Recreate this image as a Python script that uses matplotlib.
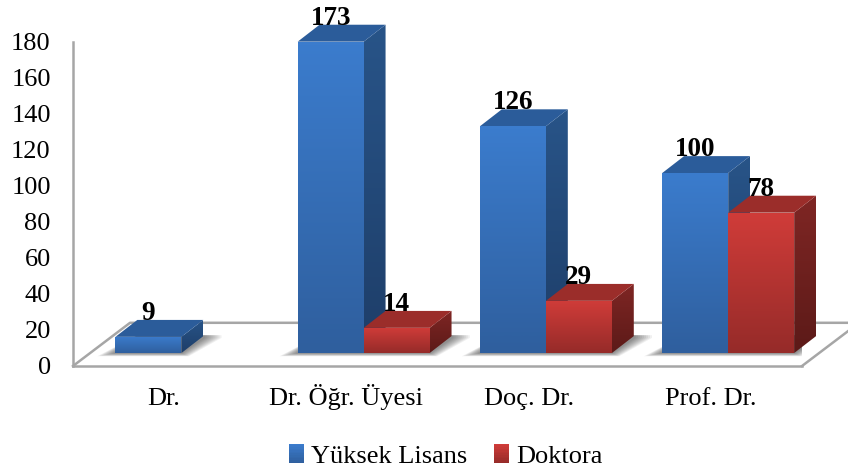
import numpy as np
import matplotlib
matplotlib.use("Agg")
import matplotlib.pyplot as plt
from matplotlib.colors import LinearSegmentedColormap, to_rgb
from matplotlib.legend_handler import HandlerBase
from matplotlib.patches import Patch, Polygon, Rectangle

plt.rcParams['font.family'] = ['Liberation Serif', 'DejaVu Serif']

categories = ["Dr.", "Dr. Öğr. Üyesi", "Doç. Dr.", "Prof. Dr."]
yuksek_lisans = [9, 173, 126, 100]
doktora = [None, 14, 29, 78]
series_names = ["Yüksek Lisans", "Doktora"]

# front, side and top face colours (top of bar, bottom of bar)
BLUE = dict(front=("#3b7ccd", "#2f5f9e"), side=("#285488", "#1e3e69"), top="#2b5c9a")
RED = dict(front=("#d03c39", "#962b29"), side=("#7f2624", "#5c1a18"), top="#9b2d2a")

# fake 3D: everything is in data units
BAR_W = 0.362
DEPTH_X = 0.12
DEPTH_Y = 9.4
BASE_X = 0.095
BASE_Y = 7.2
FLOOR_X = 0.313
FLOOR_Y = 24
GRAY = "#a6a6a6"


def gradient_face(ax, pts, colors, zorder):
    cmap = LinearSegmentedColormap.from_list("face", colors)
    xs = [p[0] for p in pts]
    ys = [p[1] for p in pts]
    grad = np.linspace(0, 1, 64).reshape(-1, 1)
    im = ax.imshow(grad, cmap=cmap, aspect="auto", zorder=zorder, interpolation="bilinear",
                   extent=(min(xs), max(xs), min(ys), max(ys)), origin="upper")
    poly = Polygon(pts, transform=ax.transData)
    im.set_clip_path(poly)
    im.set_clip_box(ax.figure.bbox)


def draw_bar(ax, x0, value, style, zorder):
    x1 = x0 + BAR_W
    b = BASE_Y
    t = BASE_Y + value
    gradient_face(ax, [(x1, b), (x1 + DEPTH_X, b + DEPTH_Y), (x1 + DEPTH_X, t + DEPTH_Y), (x1, t)],
                  style["side"], zorder)
    ax.add_patch(Polygon([(x0, t), (x1, t), (x1 + DEPTH_X, t + DEPTH_Y), (x0 + DEPTH_X, t + DEPTH_Y)],
                         facecolor=style["top"], edgecolor="none", zorder=zorder, clip_on=False))
    gradient_face(ax, [(x0, b), (x1, b), (x1, t), (x0, t)], style["front"], zorder + 0.1)


def draw_shadow(ax, x0, x1):
    # stacked see-through polygons give a soft edge
    n = 9
    for k in range(n):
        m = 0.1 * (1 - k / n)
        my = 1.8 * (1 - k / n)
        b = BASE_Y - my
        pts = [(x0 - m, b), (x1 + m * 0.4, b), (x1 + DEPTH_X + m, BASE_Y + DEPTH_Y - 1),
               (x1 + DEPTH_X + m, BASE_Y + DEPTH_Y + 0.5), (x0 + DEPTH_X, BASE_Y + DEPTH_Y + 0.5)]
        ax.add_patch(Polygon(pts, facecolor="black", edgecolor="none", alpha=0.06, zorder=2))


class GradientSwatch(HandlerBase):
    def create_artists(self, legend, orig_handle, xdescent, ydescent, width, height, fontsize, trans):
        top = np.array(to_rgb(orig_handle.grad[0]))
        bottom = np.array(to_rgb(orig_handle.grad[1]))
        n = 12
        parts = []
        for k in range(n):
            col = top + (bottom - top) * k / (n - 1)
            y = -ydescent + height * (1 - (k + 1) / n)
            parts.append(Rectangle((-xdescent, y), width, height / n + 0.2, facecolor=col,
                                   edgecolor="none", transform=trans))
        return parts


fig = plt.figure(figsize=(8.48, 4.72), dpi=100)
ax = fig.add_axes([73 / 848, (472 - 366) / 472, 729 / 848, 324 / 472])
ax.patch.set_visible(False)

# floor
ax.plot([-0.5, -0.5 + FLOOR_X, 4.0], [0, FLOOR_Y, FLOOR_Y], color=GRAY, lw=1.8, zorder=1, clip_on=False)
ax.plot([3.5, 3.5 + FLOOR_X], [0, FLOOR_Y], color=GRAY, lw=1.8, zorder=1, clip_on=False)

z = 3
for i in range(len(categories)):
    x0 = i + BASE_X - BAR_W
    has_red = doktora[i] is not None
    draw_shadow(ax, x0, x0 + BAR_W * (2 if has_red else 1))
    draw_bar(ax, x0, yuksek_lisans[i], BLUE, z)
    z += 1
    if has_red:
        draw_bar(ax, i + BASE_X, doktora[i], RED, z)
        z += 1

for i in range(len(categories)):
    ax.text(i + BASE_X - BAR_W / 2, BASE_Y + yuksek_lisans[i] + DEPTH_Y, str(yuksek_lisans[i]),
            ha="center", va="baseline", fontsize=19.5, fontweight="bold", color="black", zorder=50)
    if doktora[i] is not None:
        ax.text(i + BASE_X + BAR_W / 2, BASE_Y + doktora[i] + DEPTH_Y, str(doktora[i]),
                ha="center", va="baseline", fontsize=19.5, fontweight="bold", color="black", zorder=50)

ax.set_xlim(-0.5, 3.5)
ax.set_ylim(0, 180)
ax.set_xticks(range(len(categories)))
ax.set_xticklabels(categories, fontsize=19, va="baseline")
ax.set_yticks(range(0, 181, 20))
ax.tick_params(axis="y", length=0, pad=16, labelsize=19)
ax.tick_params(axis="x", length=0, pad=28)
for label in ax.get_yticklabels():
    label.set_verticalalignment("center_baseline")
for side in ["top", "right"]:
    ax.spines[side].set_visible(False)
for side in ["left", "bottom"]:
    ax.spines[side].set_color(GRAY)
    ax.spines[side].set_linewidth(1.8)

handles = [Patch(label=series_names[0]), Patch(label=series_names[1])]
handles[0].grad = BLUE["front"]
handles[1].grad = RED["front"]
fig.legend(handles=handles, loc="center", bbox_to_anchor=(446 / 848, 1 - 456 / 472), ncol=2, frameon=False,
           fontsize=19, handler_map={Patch: GradientSwatch()}, handlelength=0.55, handleheight=0.75,
           handletextpad=0.3, columnspacing=1.0)

fig.savefig("out.png", dpi=100)
